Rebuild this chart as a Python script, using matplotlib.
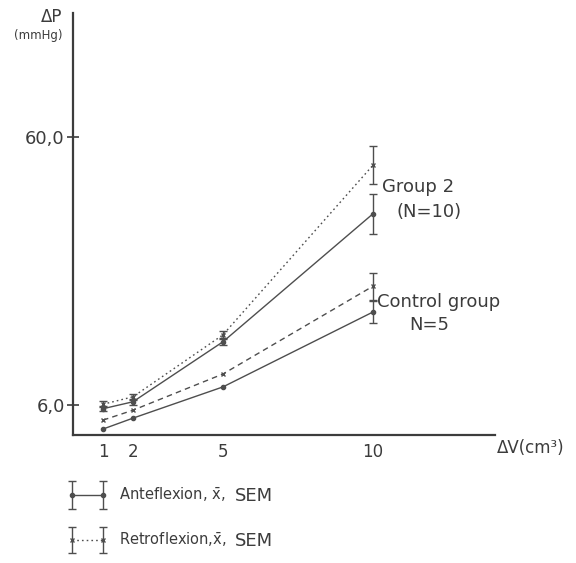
import numpy as np
import matplotlib
matplotlib.use("Agg")
import matplotlib.pyplot as plt

# volume steps (cm3) and mean pressure rise (mmHg)
volumes = [1, 2, 5, 10]
g2_retro = [6.2, 7.7, 20.2, 54.4]
g2_ante = [5.3, 6.7, 18.8, 44.6]
ctrl_retro = [3.0, 5.0, 12.3, 30.0]
ctrl_ante = [1.2, 3.4, 9.7, 24.8]

# standard error of the mean (0 = no bar drawn)
g2_retro_sem = [0.6, 0.6, 0.8, 3.8]
g2_ante_sem = [0.5, 0.6, 0.7, 4.0]
ctrl_retro_sem = [0, 0, 0, 2.7]
ctrl_ante_sem = [0, 0, 0, 2.2]

y_ticks = [6, 60]
y_tick_labels = ["6,0", "60,0"]
x_ticks = [1, 2, 5, 10]

INK = "#3c3c3c"
LINE = "#4e4e4e"
DOTTED = (0, (1.2, 2.2))
DASHED = (0, (4, 3))

plt.rcParams["font.family"] = ["DejaVu Sans"]
plt.rcParams["mathtext.fontset"] = "dejavusans"

fig = plt.figure(figsize=(5.76, 5.63), dpi=100)
ax = fig.add_axes([73 / 576, 1 - 435 / 563, 422 / 576, 422 / 563])
ax.set_xlim(0, 14.07)
ax.set_ylim(0, 85.1)


def series(y, sem, ls, marker):
    ax.plot(volumes, y, color=LINE, lw=1.0, ls=ls, marker=marker, ms=3.0,
            mew=1.0, zorder=3)
    x = np.array(volumes)
    y = np.array(y)
    e = np.array(sem)
    keep = e > 0
    ax.errorbar(x[keep], y[keep], yerr=e[keep], fmt="none", ecolor=LINE,
                elinewidth=1.0, capsize=3, capthick=1.0, zorder=3)


series(g2_retro, g2_retro_sem, DOTTED, "x")
series(g2_ante, g2_ante_sem, "-", "o")
series(ctrl_retro, ctrl_retro_sem, DASHED, "x")
series(ctrl_ante, ctrl_ante_sem, "-", "o")

for side in ["top", "right"]:
    ax.spines[side].set_visible(False)
for side in ["left", "bottom"]:
    ax.spines[side].set_color(INK)
    ax.spines[side].set_linewidth(1.6)

ax.set_yticks(y_ticks)
ax.set_yticklabels(y_tick_labels)
ax.tick_params(axis="y", direction="inout", length=8, width=1.2,
               colors=INK, labelsize=13, pad=2)
ax.set_xticks(x_ticks)
ax.set_xticklabels([str(v) for v in x_ticks])
ax.tick_params(axis="x", length=0, colors=INK, labelsize=12, pad=6)

ax.text(10.3, 50.0, "Group 2", color=INK, fontsize=13, va="center", ha="left")
ax.text(10.8, 45.0, "(N=10)", color=INK, fontsize=13, va="center", ha="left")
ax.text(10.15, 26.8, "Control group", color=INK, fontsize=13,
        va="center", ha="left")
ax.text(11.2, 22.2, "N=5", color=INK, fontsize=13, va="center", ha="left")

# axis titles, placed in pixel space of the figure
over = fig.add_axes([0, 0, 1, 1], zorder=-1)
over.set_xlim(0, 576)
over.set_ylim(563, 0)
over.axis("off")

over.text(52, 17, "ΔP", color=INK, fontsize=12, ha="center", va="center")
over.text(38, 36, "(mmHg)", color=INK, fontsize=8.5, ha="center", va="center")
over.text(497, 448, "ΔV(cm³)", color=INK, fontsize=12, ha="left", va="center")

# hand drawn legend
for y0, half, ls, marker, label in [
    (495, 14, "-", "o", "Anteflexion, "),
    (540, 13, DOTTED, "x", "Retroflexion,"),
]:
    over.plot([72, 103], [y0, y0], color=LINE, lw=1.0, ls=ls, marker=marker,
              ms=3.0, mew=1.0)
    over.errorbar([72, 103], [y0, y0], yerr=half, fmt="none", ecolor=LINE,
                  elinewidth=1.0, capsize=3, capthick=1.0)
    over.text(119, y0, label + r"$\bar{\mathrm{x}}$,", color=INK, fontsize=10.5,
              ha="left", va="center")
    over.text(235, y0 + 1, "SEM", color=INK, fontsize=13, ha="left",
              va="center")

fig.savefig("out.png", dpi=100, facecolor="white")
